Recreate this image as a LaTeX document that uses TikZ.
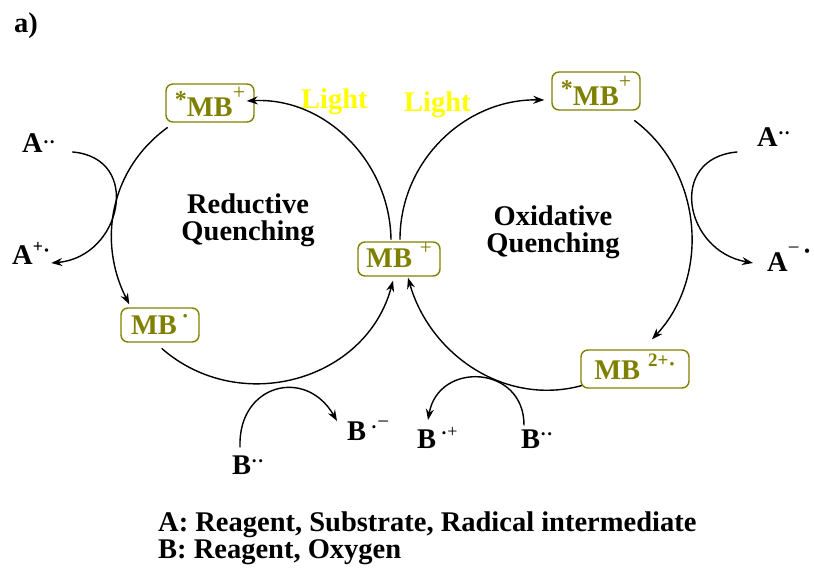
\documentclass[tikz,border=0pt]{standalone}
\usepackage{fontspec}
\setmainfont{Liberation Serif}
\usepackage{tikz}
\usetikzlibrary{arrows.meta, positioning, calc}

\definecolor{mbolive}{RGB}{128,128,0}
\definecolor{lightyellow}{RGB}{255,255,0}
\newcommand{\rsup}[3]{\raisebox{#1pt}{\fontsize{#2}{#2}\selectfont #3}}
\newcommand{\mbstar}{\rsup{9}{24}{*}MB\rsup{17}{22}{\mdseries +}}

\begin{document}
\begin{tikzpicture}[x=1pt,y=1pt,line cap=round,line join=round,
  every node/.style={font=\fontsize{28.5}{27}\selectfont\bfseries,inner sep=0pt},
  mbbox/.style={draw=mbolive,text=mbolive,line width=1.4pt,rounded corners=7pt},
  label/.style={anchor=base west},
  lighttxt/.style={anchor=base west,text=lightyellow},
  cyc/.style={line width=1.4pt,->},
  >={Stealth[length=11pt,width=8pt]}]
  \useasboundingbox (0,0) rectangle (814,568);
  % ---- titles ------------------------------------------------------------
  \node[label] (lbla) at (14,535) {a)};
  \node[lighttxt] (lightL) at (301,459) {Light};
  \node[lighttxt] (lightR) at (404,456) {Light};
  \node[align=center] (redq) at (248,348) {Reductive\\Quenching};
  \node[align=center] (oxq) at (553,336) {Oxidative\\Quenching};
  % ---- catalyst states ---------------------------------------------------
  \node[mbbox,minimum width=88,minimum height=38,text height=28pt,text depth=0pt]
    (mbsL) at (210,465) {\mbstar};
  \node[mbbox,minimum width=88,minimum height=38,text height=30pt,text depth=0pt]
    (mbsR) at (596,477) {\mbstar};
  \node[mbbox,minimum width=82,minimum height=34,text height=18pt,text depth=0pt]
    (mbp) at (399,309) {MB\;\rsup{13}{21}{\mdseries +}};
  \node[mbbox,minimum width=78,minimum height=34,text height=19pt,text depth=0pt]
    (mbdot) at (160,243) {MB\,\rsup{11}{22}{·}};
  \node[mbbox,minimum width=108,minimum height=38,text height=22pt,text depth=0pt]
    (mbtwo) at (635,199) {MB\;\rsup{13}{19}{2+}\rsup{8}{22}{·}};
  % ---- reagents ----------------------------------------------------------
  \node[label] (aL) at (22,415) {A\rsup{4}{19}{··}};
  \node[label] (aLp) at (12,303) {A\rsup{12}{18}{+}\rsup{7}{21}{·}};
  \node[label] (aR) at (757,421) {A\rsup{7}{19}{··}};
  \node[label] (aRm) at (767,296) {A\rsup{17}{21}{\mdseries −}\,\rsup{15}{16}{•}};
  \node[label] (bL) at (232,93) {B\rsup{7}{19}{··}};
  \node[label] (bLm) at (347,128) {B\,\rsup{7}{19}{·}\rsup{12}{21}{\mdseries −}};
  \node[label] (bRp) at (417,120) {B\,\rsup{9}{19}{·}\rsup{11}{18}{\mdseries +}};
  \node[label] (bR) at (521,120) {B\rsup{7}{19}{··}};
  % ---- legend ------------------------------------------------------------
  \node[label] (legA) at (158,37) {A: Reagent, Substrate, Radical intermediate};
  \node[label] (legB) at (158,10) {B: Reagent, Oxygen};
  % ---- reductive cycle ---------------------------------------------------
  \draw[cyc] ([shift={(2,-5)}]mbsL.south west) to[out=216,in=117]
    ([shift={(9,3)}]mbdot.north west);
  \draw[cyc] ([shift={(2,-6)}]mbdot.south) to[out=319,in=255,looseness=1.1]
    ([shift={(-6,-4)}]mbp.south);
  \draw[cyc] ([shift={(-8,2)}]mbp.north) to[out=91,in=3]
    ([shift={(-8,2)}]mbsL.east);
  % ---- oxidative cycle ---------------------------------------------------
  \draw[cyc] ([shift={(1,2)}]mbp.north) to[out=90,in=179]
    ([shift={(-7,-9)}]mbsR.west);
  \draw[cyc] ([shift={(-6,-10)}]mbsR.south east) to[out=323,in=47]
    ([shift={(17,10)}]mbtwo.north);
  \draw[cyc] ([shift={(1,3)}]mbtwo.south west) to[out=195,in=286]
    ([shift={(9,-1)}]mbp.south);
  % ---- electron transfer -------------------------------------------------
  \draw[cyc] ([shift={(17,1)}]aL.base east) to[out=-5,in=5,looseness=1.6]
    ([shift={(1,2)}]aLp.base east);
  \draw[cyc] ([shift={(-20,-5)}]aR.base west) to[out=185,in=170,looseness=1.6]
    ([shift={(-14,9)}]aRm.base west);
  \draw[cyc] ([shift={(8,28)}]bL.base west) to[out=92,in=120,looseness=1.6]
    ([shift={(-10,19)}]bLm.base west);
  \draw[cyc] ([shift={(3,23)}]bR.base west) to[out=90,in=80,looseness=1.6]
    ([shift={(11,28)}]bRp.base west);
\end{tikzpicture}
\end{document}
